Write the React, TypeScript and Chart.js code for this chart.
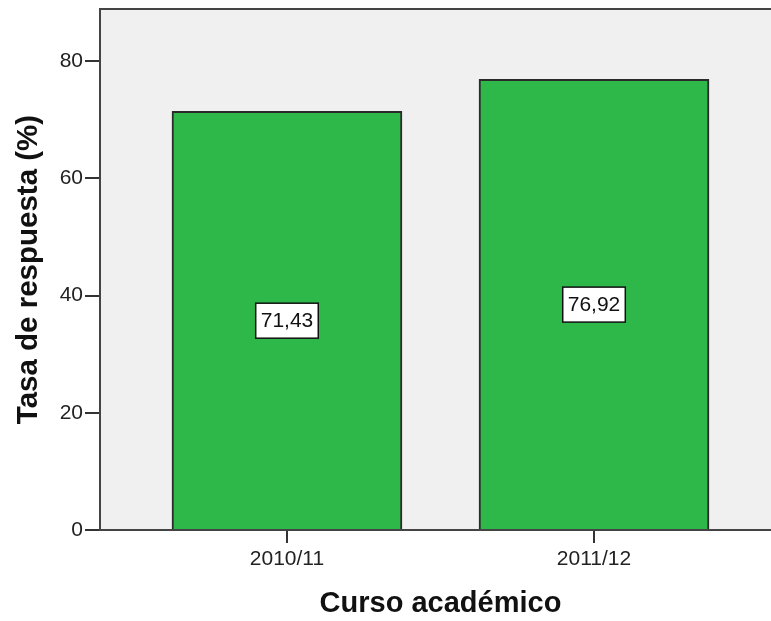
import React, { useEffect, useRef } from 'react';
import { Chart, registerables } from 'chart.js';

Chart.register(...registerables);

const categories = ['2010/11', '2011/12'];
const values = [71.43, 76.92];
const yTicks = [0, 20, 40, 60, 80];
const yMax = 88.9;
const xMin = -0.609;
const xMax = 1.609;

const FAMILY = '"Liberation Sans", Arial, sans-serif';

const fmt = (v: number) => v.toFixed(2).replace('.', ',');

const decoPlugin = {
  id: 'deco',
  beforeDraw(chart: any) {
    const { ctx, chartArea: a } = chart;
    ctx.save();
    ctx.fillStyle = '#F0F0F0';
    ctx.fillRect(a.left, a.top, a.right - a.left, a.bottom - a.top);
    ctx.strokeStyle = '#444';
    ctx.lineWidth = 2;
    ctx.beginPath();
    ctx.moveTo(a.left, a.top);
    ctx.lineTo(a.right, a.top);
    ctx.stroke();
    ctx.restore();
  },
  afterDatasetsDraw(chart: any) {
    const meta = chart.getDatasetMeta(0);
    const ctx = chart.ctx;
    const yScale = chart.scales.y;
    ctx.save();
    ctx.font = `21px ${FAMILY}`;
    meta.data.forEach((bar: any, i: number) => {
      const text = fmt(values[i]);
      const cx = bar.x;
      const cy = yScale.getPixelForValue(values[i] / 2);
      const w = ctx.measureText(text).width + 10;
      const h = 35;
      ctx.fillStyle = '#ffffff';
      ctx.fillRect(cx - w / 2, cy - h / 2, w, h);
      ctx.strokeStyle = '#111';
      ctx.lineWidth = 1.5;
      ctx.strokeRect(cx - w / 2, cy - h / 2, w, h);
      ctx.fillStyle = '#111';
      ctx.textAlign = 'center';
      ctx.textBaseline = 'middle';
      ctx.fillText(text, cx, cy + 1);
    });
    ctx.restore();
  },
};

export default function App() {
  const ref = useRef<HTMLCanvasElement | null>(null);

  useEffect(() => {
    if (!ref.current) return;
    const chart = new Chart(ref.current, {
      type: 'bar',
      data: {
        datasets: [
          {
            data: values.map((v, i) => ({ x: i, y: v })),
            backgroundColor: '#2EB84A',
            borderColor: '#2a2a2a',
            borderWidth: 2,
            barThickness: 230,
          } as any,
        ],
      },
      options: {
        responsive: false,
        animation: false,
        devicePixelRatio: 1,
        layout: { padding: { top: 9, left: 0, right: 0, bottom: 0 } },
        plugins: { legend: { display: false }, tooltip: { enabled: false } },
        scales: {
          x: {
            type: 'linear',
            offset: false,
            min: xMin,
            max: xMax,
            afterBuildTicks: (s: any) => {
              s.ticks = categories.map((_, i) => ({ value: i }));
            },
            afterFit: (s: any) => {
              s.height = 91;
              s.paddingLeft = 0;
              s.paddingRight = 0;
            },
            ticks: {
              callback: (v: any) => categories[Number(v)] ?? '',
              font: { size: 21, family: FAMILY },
              color: '#222',
              padding: 4,
              autoSkip: false,
              maxRotation: 0,
            },
            grid: { offset: false, drawOnChartArea: false, drawTicks: true, tickLength: 13, color: '#333', lineWidth: 2 },
            border: { display: true, color: '#444', width: 2 },
            title: {
              display: true,
              text: 'Curso académico',
              font: { size: 29, weight: 'bold', family: FAMILY },
              color: '#111',
              padding: { top: 0, bottom: 0 },
            },
          },
          y: {
            type: 'linear',
            min: 0,
            max: yMax,
            afterBuildTicks: (s: any) => {
              s.ticks = yTicks.map((v) => ({ value: v }));
            },
            afterFit: (s: any) => {
              s.width = 100;
              s.paddingTop = 0;
              s.paddingBottom = 0;
            },
            ticks: {
              font: { size: 21, family: FAMILY },
              color: '#222',
              padding: 2,
            },
            grid: { drawOnChartArea: false, drawTicks: true, tickLength: 15, color: '#333', lineWidth: 2 },
            border: { display: true, color: '#444', width: 2 },
            title: {
              display: true,
              text: 'Tasa de respuesta (%)',
              font: { size: 29.5, weight: 'bold', family: FAMILY },
              color: '#111',
              padding: { top: 11, bottom: 0 },
            },
          },
        },
      } as any,
      plugins: [decoPlugin],
    });
    return () => chart.destroy();
  }, []);

  return (
    <div style={{ position: 'absolute', left: 0, top: 0, width: 771, height: 621, overflow: 'hidden', background: '#fff' }}>
      <canvas ref={ref} width={781} height={621} style={{ width: 781, height: 621, display: 'block' }} />
    </div>
  );
}
